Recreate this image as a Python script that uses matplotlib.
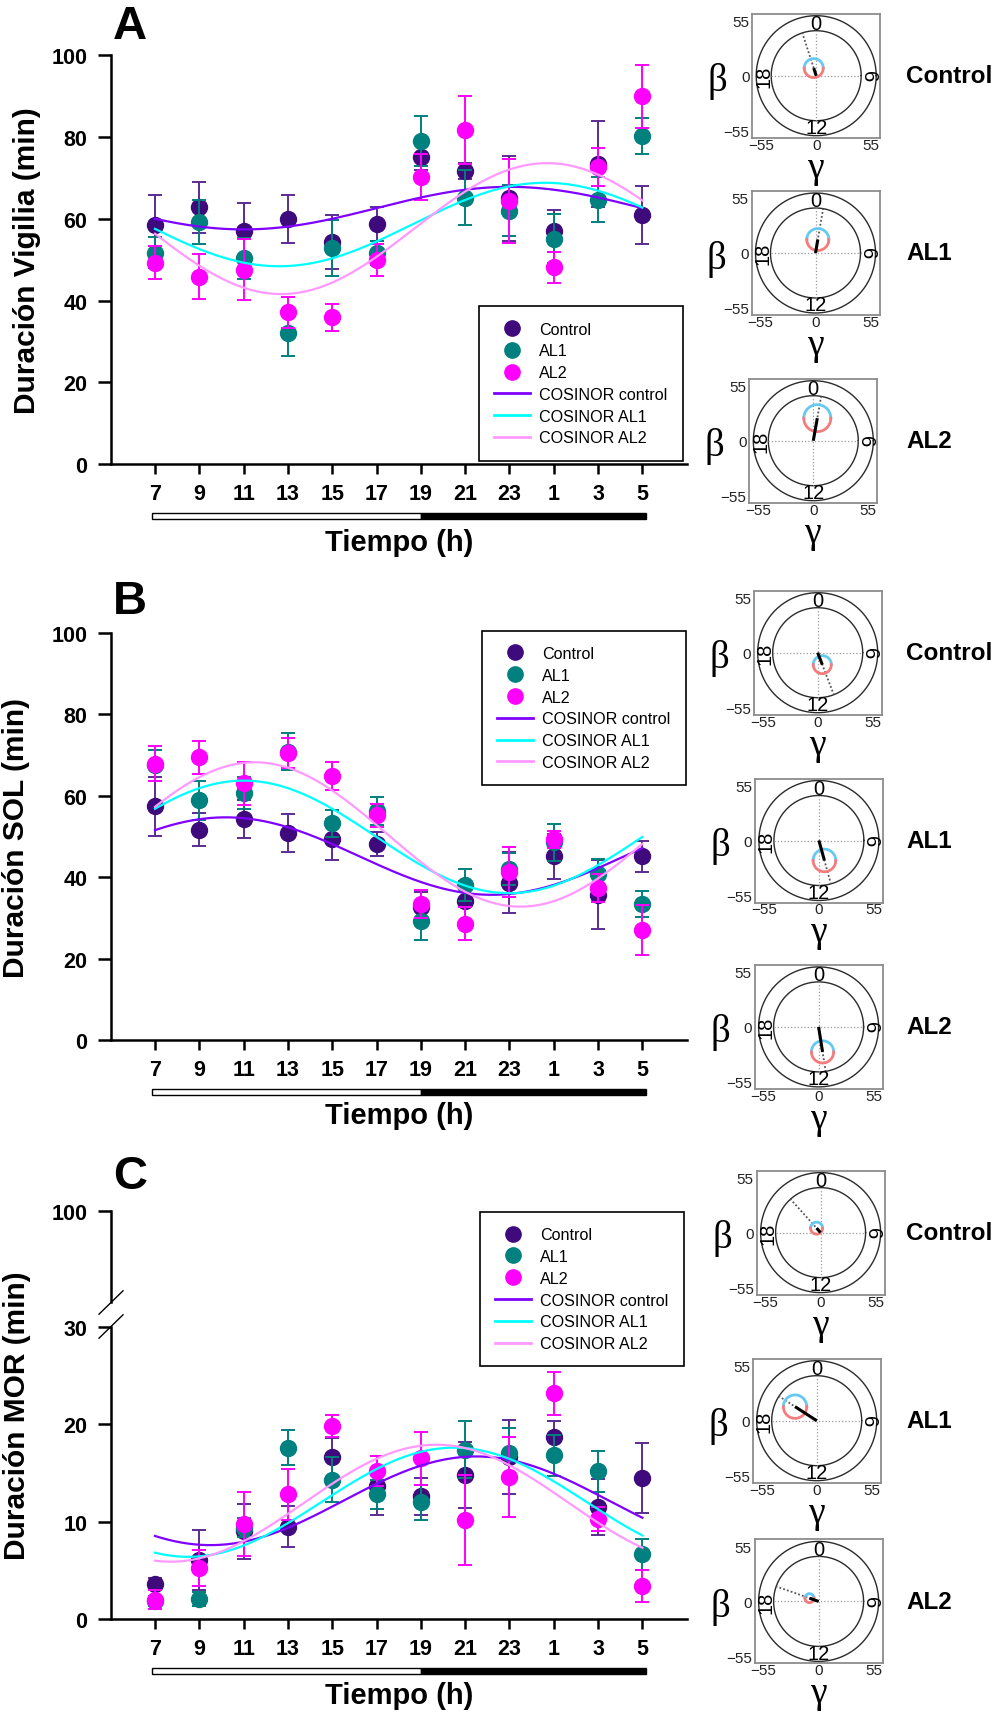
import numpy as np
import matplotlib
matplotlib.use("Agg")
import matplotlib.pyplot as plt
from matplotlib.lines import Line2D
from matplotlib.patches import Rectangle

plt.rcParams['font.family'] = ['Liberation Sans', 'DejaVu Sans']
plt.rcParams['mathtext.fontset'] = 'custom'
plt.rcParams['mathtext.rm'] = 'Liberation Serif'

# ---------------------------------------------------------------- data
hours = [7, 9, 11, 13, 15, 17, 19, 21, 23, 1, 3, 5]
group_names = ['Control', 'AL1', 'AL2']

# Vigilia (min): mean and SEM per group
vig_control = [58.4, 62.8, 57.0, 59.9, 54.4, 58.7, 75.0, 71.6, 65.0, 57.0, 73.4, 60.9]
vig_control_err = [7.4, 6.2, 6.9, 5.8, 6.6, 4.1, 3.0, 2.0, 10.4, 5.2, 10.5, 7.1]
vig_al1 = [51.7, 59.2, 50.3, 32.1, 52.9, 51.6, 79.0, 65.1, 62.0, 55.1, 64.7, 80.3]
vig_al1_err = [3.8, 5.3, 5.0, 5.7, 6.8, 3.0, 6.2, 6.7, 6.2, 6.0, 5.5, 4.4]
vig_al2 = [49.3, 45.8, 47.6, 37.1, 35.9, 50.0, 70.3, 81.6, 64.4, 48.1, 72.7, 90.0]
vig_al2_err = [4.1, 5.5, 7.4, 3.7, 3.3, 3.9, 5.6, 8.3, 10.3, 3.8, 4.7, 7.7]

# SOL (min)
sol_control = [57.4, 51.7, 54.3, 50.8, 49.3, 48.2, 32.8, 34.2, 38.7, 45.1, 35.7, 45.1]
sol_control_err = [7.3, 4.0, 4.7, 4.7, 5.1, 3.0, 3.5, 5.0, 7.4, 5.6, 8.5, 3.8]
sol_al1 = [67.5, 58.9, 60.7, 70.8, 53.2, 56.3, 29.3, 38.1, 42.0, 48.6, 40.7, 33.5]
sol_al1_err = [3.8, 4.8, 4.0, 4.6, 3.2, 3.4, 4.8, 4.0, 4.0, 4.5, 3.8, 3.2]
sol_al2 = [67.9, 69.4, 63.0, 70.5, 64.8, 55.2, 33.5, 28.6, 41.3, 49.3, 37.4, 27.0]
sol_al2_err = [4.4, 4.1, 5.3, 3.6, 3.5, 2.8, 3.4, 4.0, 6.2, 2.0, 3.5, 6.1]

# MOR (min)
mor_control = [3.6, 6.1, 9.0, 9.5, 16.6, 13.7, 12.6, 14.8, 16.6, 18.7, 11.5, 14.5]
mor_control_err = [0.6, 3.1, 2.85, 2.1, 2.0, 3.0, 1.9, 3.4, 3.8, 1.6, 2.9, 3.6]
mor_al1 = [1.85, 2.1, 9.4, 17.6, 14.3, 12.8, 12.0, 17.4, 17.1, 16.8, 15.2, 6.65]
mor_al1_err = [0.5, 0.7, 1.0, 1.8, 2.3, 1.5, 1.8, 2.9, 2.5, 2.1, 2.1, 1.6]
mor_al2 = [2.0, 5.25, 9.8, 12.8, 19.8, 15.2, 16.5, 10.2, 14.6, 23.2, 10.3, 3.4]
mor_al2_err = [1.0, 1.8, 3.3, 2.6, 1.1, 1.5, 2.7, 4.6, 4.1, 2.2, 1.2, 1.65]

# COSINOR fits: mesor, amplitude, acrophase (h) for Control, AL1, AL2
cos_vig_mesor = [62.6, 58.6, 57.6]
cos_vig_amp = [5.2, 10.2, 16.0]
cos_vig_acro = [23.0, 24.6, 24.7]
cos_sol_mesor = [45.2, 49.9, 50.5]
cos_sol_amp = [9.5, 13.8, 17.7]
cos_sol_acro = [10.2, 11.0, 11.5]
cos_mor_mesor = [12.15, 12.0, 11.9]
cos_mor_amp = [4.55, 5.6, 6.0]
cos_mor_acro = [21.5, 20.5, 19.7]

# Polar (gamma/beta) plots: vector length, acrophase (h), confidence radius
polar_vig_len = [8.0, 13.7, 22.9]
polar_vig_phase = [22.8, 0.65, 0.67]
polar_vig_ci = [9.5, 11.0, 13.5]
polar_sol_len = [12.8, 20.7, 25.3]
polar_sol_phase = [10.6, 10.97, 11.4]
polar_sol_ci = [9.0, 11.3, 11.1]
polar_mor_len = [6.0, 25.8, 9.7]
polar_mor_phase = [21.2, 20.2, 19.3]
polar_mor_ci = [6.0, 11.7, 4.5]

# ---------------------------------------------------------------- style
W, H = 997, 1715
fig = plt.figure(figsize=(W / 100, H / 100), dpi=100)

marker_colors = ['#3f0a7c', '#00807e', '#ff00ff']
err_colors = ['#5b2c92', '#00807e', '#ff00ff']
fit_colors = ['#7f00ff', '#00ffff', '#ff99ff']
fit_labels = ['COSINOR control', 'COSINOR AL1', 'COSINOR AL2']

AX_L, AX_R = 110.7, 686.7
X_LIM = (-1, 12)
idx = np.arange(len(hours))


def fx(x):
    return x / W


def fy(y):
    return 1 - y / H


def make_axes(top, bottom):
    return fig.add_axes([fx(AX_L), fy(bottom), (AX_R - AX_L) / W, (bottom - top) / H])


def style_axes(ax, show_bottom=True):
    ax.spines['top'].set_visible(False)
    ax.spines['right'].set_visible(False)
    for s in ('left', 'bottom'):
        ax.spines[s].set_linewidth(1.8)
    if not show_bottom:
        ax.spines['bottom'].set_visible(False)
    ax.set_xlim(*X_LIM)
    ax.tick_params(axis='y', direction='out', length=9.4, width=1.8, pad=7.5,
                   labelsize=15.5)
    ax.tick_params(axis='x', direction='out', length=7, width=1.8, pad=6.5,
                   labelsize=15.5)
    for lab in ax.get_xticklabels() + ax.get_yticklabels():
        lab.set_fontweight('bold')
    ax.patch.set_alpha(0)


def draw_data(ax, means, errs, mesor, amp, acro):
    for g in range(3):
        ax.errorbar(idx, means[g], yerr=errs[g], fmt='o', ms=11.5,
                    color=marker_colors[g], mec=marker_colors[g],
                    ecolor=err_colors[g], elinewidth=1.4, capsize=4.8,
                    capthick=1.4, zorder=3 + g, clip_on=False)
    t = np.linspace(7, 29, 300)
    for g in range(3):
        y = mesor[g] + amp[g] * np.cos(2 * np.pi * (t - acro[g]) / 24)
        ax.plot((t - 7) / 2, y, color=fit_colors[g], lw=1.6, zorder=7)


def x_decor(ax, axis_bottom, tiempo_y):
    ax.set_xticks(idx)
    ax.set_xticklabels([str(h) for h in hours], fontweight='bold')
    # light / dark bar
    x0 = 151.5
    x_mid = AX_L + (6 - X_LIM[0]) * (AX_R - AX_L) / (X_LIM[1] - X_LIM[0])
    x1 = 646.0
    yc = axis_bottom + 51.5
    h = 6.0
    fig.add_artist(Rectangle((fx(x0), fy(yc + h / 2)), (x_mid - x0) / W, h / H,
                             transform=fig.transFigure, facecolor='white',
                             edgecolor='black', lw=1.0))
    fig.add_artist(Rectangle((fx(x_mid), fy(yc + h / 2)), (x1 - x_mid) / W, h / H,
                             transform=fig.transFigure, facecolor='black',
                             edgecolor='black', lw=1.0))
    fig.text(fx(399), fy(tiempo_y), 'Tiempo (h)', ha='center', va='center',
             fontsize=21, fontweight='bold')


def add_legend(left, top):
    handles = [Line2D([], [], ls='none', marker='o', ms=11, color=c)
               for c in marker_colors]
    handles += [Line2D([], [], color=c, lw=2) for c in fit_colors]
    labels = group_names + fit_labels
    leg = fig.legend(handles, labels, loc='upper left',
                     bbox_to_anchor=(fx(left), fy(top)), fontsize=11.6,
                     frameon=True, fancybox=False, edgecolor='black',
                     framealpha=1, handlelength=2.2, handletextpad=0.6,
                     labelspacing=0.42, borderpad=0.95, borderaxespad=0)
    leg.get_frame().set_linewidth(1.2)
    leg.set_zorder(20)


# ---------------------------------------------------------------- panel A
axA = make_axes(56.1, 465.3)
axA.set_ylim(0, 100)
axA.set_yticks([0, 20, 40, 60, 80, 100])
draw_data(axA, [vig_control, vig_al1, vig_al2],
          [vig_control_err, vig_al1_err, vig_al2_err],
          cos_vig_mesor, cos_vig_amp, cos_vig_acro)
x_decor(axA, 465.3, 543)
style_axes(axA)
fig.text(fx(26.7), fy(260.7), 'Duración Vigilia (min)', rotation=90,
         ha='center', va='center', fontsize=21.5, fontweight='bold')
fig.text(fx(130), fy(27), 'A', ha='center', va='center', fontsize=34,
         fontweight='bold')
add_legend(479, 307.3)

# ---------------------------------------------------------------- panel B
axB = make_axes(633.6, 1041.4)
axB.set_ylim(0, 100)
axB.set_yticks([0, 20, 40, 60, 80, 100])
draw_data(axB, [sol_control, sol_al1, sol_al2],
          [sol_control_err, sol_al1_err, sol_al2_err],
          cos_sol_mesor, cos_sol_amp, cos_sol_acro)
x_decor(axB, 1041.4, 1116.4)
style_axes(axB)
fig.text(fx(16.5), fy(837.5), 'Duración SOL (min)', rotation=90,
         ha='center', va='center', fontsize=21.5, fontweight='bold')
fig.text(fx(130), fy(602), 'B', ha='center', va='center', fontsize=34,
         fontweight='bold')
add_legend(482, 631.8)

# ---------------------------------------------------------------- panel C (broken axis)
axC_top = make_axes(1212, 1303)
axC_top.set_ylim(80, 100)
axC_top.set_yticks([100])
axC_top.set_xticks([])
style_axes(axC_top, show_bottom=False)
axC_top.tick_params(axis='x', length=0)

axC = make_axes(1327.8, 1620.2)
axC.set_ylim(0, 30)
axC.set_yticks([0, 10, 20, 30])
draw_data(axC, [mor_control, mor_al1, mor_al2],
          [mor_control_err, mor_al1_err, mor_al2_err],
          cos_mor_mesor, cos_mor_amp, cos_mor_acro)
x_decor(axC, 1620.2, 1695.9)
style_axes(axC)
for yb in (1303.5, 1327.5):
    fig.add_artist(Line2D([fx(99), fx(123)], [fy(yb + 11.7), fy(yb - 11.7)],
                          transform=fig.transFigure, color='black', lw=1.0))
fig.text(fx(16.8), fy(1416), 'Duración MOR (min)', rotation=90,
         ha='center', va='center', fontsize=21.5, fontweight='bold')
fig.text(fx(130), fy(1177), 'C', ha='center', va='center', fontsize=34,
         fontweight='bold')
add_legend(479.8, 1213)


# ---------------------------------------------------------------- polar plots
def polar_panel(cx, cy, length, phase, ci, label):
    bw, bh = 128, 124
    ax = fig.add_axes([fx(cx - bw / 2), fy(cy + bh / 2), bw / W, bh / H])
    ax.set_xlim(-bw / 2, bw / 2)
    ax.set_ylim(-bh / 2, bh / 2)
    for s in ax.spines.values():
        s.set_color('#8c8c8c')
        s.set_linewidth(1.3)
    ax.set_xticks([-55, 0, 55])
    ax.set_yticks([-55, 0, 55])
    ax.tick_params(axis='x', length=0, labelsize=11, pad=0, labelcolor='#222222')
    ax.tick_params(axis='y', length=0, labelsize=11, pad=2, labelcolor='#222222')
    th = np.linspace(0, 2 * np.pi, 361)
    for rad in (60, 45):
        ax.plot(rad * np.cos(th), rad * np.sin(th), color='#2b2b2b', lw=1.0)
    ax.plot([-45, 45], [0, 0], ls=':', color='#9a9a9a', lw=0.9)
    ax.plot([0, 0], [-45, 45], ls=':', color='#9a9a9a', lw=0.9)
    ax.text(0, 52, '0', ha='center', va='center', fontsize=14.5)
    ax.text(0, -52, '12', ha='center', va='center', fontsize=14.5)
    ax.text(-52.5, 0, '18', ha='center', va='center', fontsize=14.5, rotation=90)
    ax.text(52, 0, '6', ha='center', va='center', fontsize=14.5, rotation=-90)
    ang = 2 * np.pi * phase / 24
    ux, uy = np.sin(ang), np.cos(ang)
    gx, by = length * ux, length * uy
    ax.plot([0, 45 * ux], [0, 45 * uy], ls=(0, (1, 1.2)), color='#555555', lw=1.3)
    up = np.linspace(0, np.pi, 60)
    lo = np.linspace(np.pi, 2 * np.pi, 60)
    ax.plot(gx + ci * np.cos(up), by + ci * np.sin(up), color='#66c9f2', lw=2.0)
    ax.plot(gx + ci * np.cos(lo), by + ci * np.sin(lo), color='#f47c7c', lw=2.0)
    ax.plot([0, gx], [0, by], color='black', lw=2.2, solid_capstyle='butt')
    fig.text(fx(cx - 99), fy(cy + 5), r'$\mathrm{\beta}$', ha='center',
             va='center', fontsize=28)
    fig.text(fx(cx), fy(cy + 93), r'$\mathrm{\gamma}$', ha='center',
             va='center', fontsize=27)
    fig.text(fx(906), fy(cy), label, ha='left', va='center', fontsize=17.5,
             fontweight='bold')


polar_centers = [
    [(816.2, 76.7), (815.5, 254.0), (813.3, 441.7)],
    [(817.7, 653.7), (818.9, 841.5), (818.6, 1027.9)],
    [(820.6, 1233.6), (816.7, 1421.7), (818.6, 1602.4)],
]
polar_sets = [
    (polar_vig_len, polar_vig_phase, polar_vig_ci),
    (polar_sol_len, polar_sol_phase, polar_sol_ci),
    (polar_mor_len, polar_mor_phase, polar_mor_ci),
]
for row, (lens, phases, cis) in enumerate(polar_sets):
    for g in range(3):
        cx, cy = polar_centers[row][g]
        polar_panel(cx, cy, lens[g], phases[g], cis[g], group_names[g])

fig.savefig('out.png', dpi=100)
